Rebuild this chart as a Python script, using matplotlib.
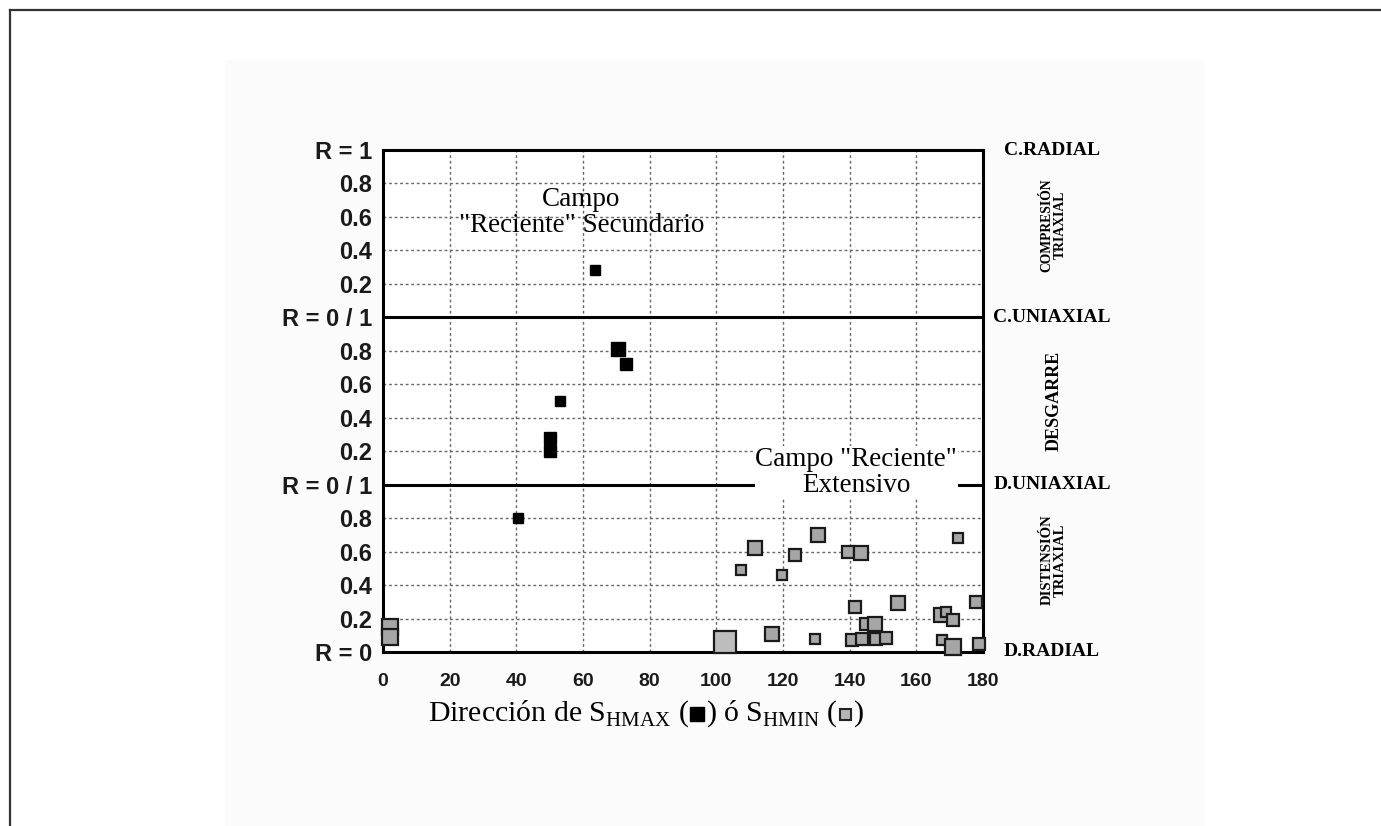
import matplotlib
matplotlib.use('Agg')
from matplotlib import pyplot as plt
from matplotlib.lines import Line2D
from matplotlib.patches import Rectangle
from matplotlib.offsetbox import TextArea, DrawingArea, HPacker, AnchoredOffsetbox

plt.rcParams['mathtext.fontset'] = 'custom'
plt.rcParams['mathtext.rm'] = 'Liberation Serif'

# S_HMAX (black squares): direction, band (0 distension, 1 desgarre, 2 compresion), R, weight
hmax_dir = [63.5, 70.5, 72.8, 53.0, 50.0, 50.0, 40.4]
hmax_band = [2, 1, 1, 1, 1, 1, 0]
hmax_r = [0.28, 0.81, 0.72, 0.50, 0.28, 0.20, 0.80]
hmax_w = [1, 3, 2, 1, 2, 2, 1]

# S_HMIN (grey squares), all in the distension band
hmin_dir = [2.0, 2.0, 102.6, 111.6, 107.4, 123.6, 119.6, 130.4, 116.6, 129.6,
            139.4, 143.5, 141.7, 154.6, 172.6, 177.8, 167.4, 168.8, 170.9, 167.8,
            170.9, 178.8, 145.0, 147.6, 140.7, 143.7, 148.0, 151.0]
hmin_r = [0.15, 0.09, 0.06, 0.62, 0.49, 0.58, 0.46, 0.70, 0.11, 0.08,
          0.60, 0.59, 0.27, 0.29, 0.68, 0.30, 0.22, 0.24, 0.19, 0.07,
          0.03, 0.05, 0.17, 0.17, 0.07, 0.08, 0.08, 0.085]
hmin_w = [4, 4, 7, 3, 1, 2, 1, 3, 3, 1,
          2, 3, 2, 3, 1, 2, 3, 1, 2, 1,
          4, 2, 2, 3, 2, 2, 2, 2]

xticks = [0, 20, 40, 60, 80, 100, 120, 140, 160, 180]
r_steps = [0.0, 0.2, 0.4, 0.6, 0.8]
band_labels = ['R = 0', 'R = 0 / 1', 'R = 0 / 1', 'R = 1']
regime_edges = ['D.RADIAL', 'D.UNIAXIAL', 'C.UNIAXIAL', 'C.RADIAL']
regime_bands = ['DISTENSIÓN\nTRIAXIAL', 'DESGARRE', 'COMPRESIÓN\nTRIAXIAL']

serif = 'Liberation Serif'
sans = 'Liberation Sans'


def msize(w):
    return (8 + 2 * w) / 1.389


fig = plt.figure(figsize=(13.81, 8.26), dpi=100)
fig.patches.append(Rectangle((225 / 1381, 0), 980 / 1381, 1 - 60 / 826, transform=fig.transFigure,
                             facecolor='#fbfbfb', edgecolor='none', zorder=-5))
fig.add_artist(Line2D([10 / 1381, 1], [1 - 10 / 826, 1 - 10 / 826], color='#333333', lw=1.6))
fig.add_artist(Line2D([10 / 1381, 10 / 1381], [0, 1 - 10 / 826], color='#333333', lw=1.6))

ax = fig.add_axes([383 / 1381, 1 - 652 / 826, 600 / 1381, 502 / 826])
ax.set_zorder(2)
ax.set_facecolor('white')
ax.set_xlim(0, 180)
ax.set_ylim(0, 3)

# ticks and grid
yt = [b + r for b in range(3) for r in r_steps] + [3]
ylab = []
for b in range(3):
    ylab.append(band_labels[b])
    ylab += ['%.1f' % r for r in r_steps[1:]]
ylab.append(band_labels[3])
ax.set_yticks(yt)
ax.set_yticklabels(ylab, family=sans, fontsize=17, fontweight='bold', color='#1a1a1a')
ax.set_xticks(xticks)
ax.set_xticklabels([str(x) for x in xticks], family=sans, fontsize=14, fontweight='bold',
                   color='#1a1a1a')
ax.tick_params(length=0)
ax.tick_params(axis='y', pad=8)
ax.tick_params(axis='x', pad=15)
ax.grid(color='#666666', linestyle=(0, (2, 2)), lw=1.0)
for b in (1, 2):
    ax.axhline(b, color='black', lw=2.2, zorder=2)
for s in ax.spines.values():
    s.set_linewidth(2.2)

# points
for i in range(len(hmin_dir)):
    ax.plot(hmin_dir[i], hmin_r[i], 's', ms=msize(hmin_w[i]),
            mfc='#bdbdbd' if hmin_w[i] > 5 else '#a6a6a6', mec='#1a1a1a', mew=1.6,
            clip_on=False, zorder=4)
for i in range(len(hmax_dir)):
    ax.plot(hmax_dir[i], hmax_band[i] + hmax_r[i], 's', ms=msize(hmax_w[i]),
            color='black', clip_on=False, zorder=4)

ax.text(59.5, 2.625, 'Campo\n"Reciente" Secundario', family=serif, fontsize=19.5,
        ha='center', va='center', linespacing=1.05, zorder=5)
ax.text(142, 1.075, 'Campo "Reciente"\nExtensivo', family=serif, fontsize=19.5,
        ha='center', va='center', linespacing=1.05, zorder=5,
        bbox=dict(boxstyle='square,pad=0.02', facecolor='white', edgecolor='none'))

# regime labels on the right
tr = ax.get_yaxis_transform()
for b, name in enumerate(regime_edges):
    ax.text(1.115, b, name, transform=tr, family=serif, fontsize=14, fontweight='bold',
            ha='center', va='center')
band_fs = [10.5, 13, 9.8]
for b, name in enumerate(regime_bands):
    ax.text(1.118, b + 0.5 + (0.05 if b != 1 else 0), name, transform=tr, family=serif,
            fontsize=band_fs[b], fontweight='bold', rotation=90,
            ha='center', va='center', linespacing=1.0)

# x label with square symbols
tp = dict(family=serif, fontsize=21.5)
sq1 = DrawingArea(10, 10, 0, -2)
sq1.add_artist(Rectangle((0, 0), 10, 10, facecolor='black', edgecolor='black'))
sq2 = DrawingArea(10, 10, 0, -2)
sq2.add_artist(Rectangle((1, 1), 8, 8, facecolor='#b5b5b5', edgecolor='#222222', lw=1.5))
parts = [TextArea(r'Dirección de S$_{\mathregular{HMAX}}$ (', textprops=tp), sq1,
         TextArea(r') ó S$_{\mathregular{HMIN}}$ (', textprops=tp), sq2,
         TextArea(')', textprops=tp)]
box = HPacker(children=parts, align='baseline', pad=0, sep=1)
anch = AnchoredOffsetbox(loc='center', child=box, frameon=False, pad=0,
                         bbox_to_anchor=(646 / 1381, 1 - 714 / 826),
                         bbox_transform=fig.transFigure)
fig.add_artist(anch)

plt.savefig('out.png', dpi=100)
